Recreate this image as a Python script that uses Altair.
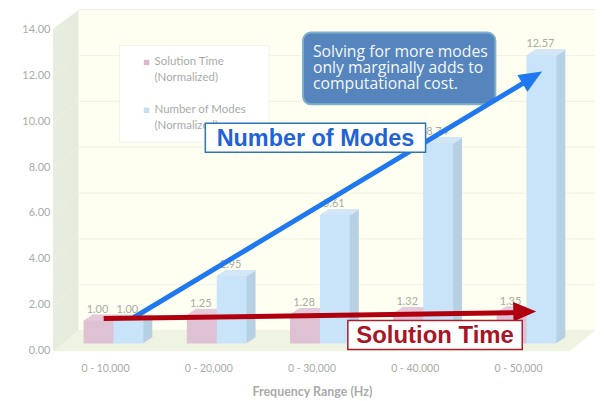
import altair as alt
import pandas as pd

categories = ["0 - 10,000", "0 - 20,000", "0 - 30,000", "0 - 40,000", "0 - 50,000"]
solution_time = [1.00, 1.25, 1.28, 1.32, 1.35]
num_modes = [1.00, 2.95, 5.61, 8.74, 12.57]
y_ticks = [0, 2, 4, 6, 8, 10, 12, 14]

W, H = 590, 392
UNIT = 23
ZERO = 343
AXIS_GRAY = "#A8ACA8"
WALL, FLOOR, BACK, GRID = "#E5ECDD", "#EEF3E2", "#FEFFF0", "#F2F3E4"


def p(v):
    return v - 8


df = pd.DataFrame({"cat": categories, "st": solution_time, "nm": num_modes})
grid_df = pd.DataFrame({"v": y_ticks})

x_scale = alt.Scale(domain=categories, range=[p(54), p(572)], paddingInner=0.42, paddingOuter=0.21)
y_scale = alt.Scale(domain=[(ZERO - H) / UNIT, ZERO / UNIT], nice=False, zero=False)

x_axis = alt.Axis(
    title="Frequency Range (Hz)", labelAngle=0, domain=False, ticks=False, grid=False,
    offset=-(H - ZERO), labelPadding=13, labelColor=AXIS_GRAY, labelFont="Lato", labelFontSize=10.5,
    titleFont="Lato", titleFontSize=12.5, titleFontWeight="bold", titleColor=AXIS_GRAY, titlePadding=12)
y_axis = alt.Axis(
    title=None, values=y_ticks, format=".2f", domain=False, ticks=False, grid=False,
    offset=-(p(54) - 2), labelPadding=2, labelColor=AXIS_GRAY, labelFont="Lato", labelFontSize=11)

X = alt.X("cat:N", scale=x_scale, sort=categories, axis=x_axis)


def Y(field):
    return alt.Y(f"{field}:Q", scale=y_scale, axis=y_axis)


layers = []

# back wall, left wall, floor
layers.append(alt.Chart().mark_rect(color=BACK).encode(
    x=alt.value(p(78)), x2=alt.value(p(597)), y=alt.value(p(10)), y2=alt.value(p(331))))
for k in range(0, 21):
    layers.append(alt.Chart().mark_rule(color=FLOOR, strokeWidth=1.5).encode(
        x=alt.value(p(54 + k * 1.2)), x2=alt.value(p(572 + k * 1.25)), y=alt.value(p(351 - k))))
for k in range(0, 25):
    layers.append(alt.Chart().mark_rule(color=WALL, strokeWidth=1.5).encode(
        x=alt.value(p(54 + k)), y=alt.value(p(28 - k * 0.75)), y2=alt.value(p(351 - k * 0.83))))

# gridlines on back wall
layers.append(alt.Chart(grid_df[grid_df.v > 0]).mark_rule(color=GRID, strokeWidth=1.2, yOffset=-20).encode(
    x=alt.value(p(78)), x2=alt.value(p(597)), y=alt.Y("v:Q", scale=y_scale, axis=y_axis)))

# faint gridline continuation on the left wall
for v in y_ticks[1:-1]:
    layers.append(alt.Chart().mark_rule(color="#EAF0E3", strokeWidth=1).encode(
        x=alt.value(p(54)), x2=alt.value(p(78)),
        y=alt.value(p(351 - UNIT * v)), y2=alt.value(p(331 - UNIT * v))))


def box(field, dx, front, side, top):
    out = []
    for k in range(9, 0, -1):
        out.append(alt.Chart(df).mark_bar(width=30, color=side, xOffset=dx + k, yOffset=-7 - k * 0.66,
                                          y2Offset=-7 - k * 0.66).encode(
            x=X, y=Y(field), y2=alt.Y2("base:Q")).transform_calculate(base="0"))
    for k in range(9, 0, -1):
        out.append(alt.Chart(df).mark_bar(width=30, color=top, xOffset=dx + k, yOffset=-7 - k * 0.66,
                                          y2Offset=-7 - k * 0.66).encode(
            x=X, y=Y(field), y2=alt.Y2("base:Q")).transform_calculate(base=f"datum.{field}-0.05"))
    out.append(alt.Chart(df).mark_bar(width=30, color=front, xOffset=dx, yOffset=-7, y2Offset=-7).encode(
        x=X, y=Y(field), y2=alt.Y2("base:Q")).transform_calculate(base="0"))
    return out


layers += box("st", -7, "#DFC1D4", "#D9BCCE", "#E4CBDB")
layers += box("nm", 23, "#C9E3F9", "#B6D0E4", "#D3E7F7")

for field, dx in (("st", -8), ("nm", 22)):
    layers.append(alt.Chart(df).mark_text(color=AXIS_GRAY, font="Lato", fontSize=11, xOffset=dx, yOffset=-18).encode(
        x=X, y=Y(field), text=alt.Text(f"{field}:Q", format=".2f")))

# legend panel
layers.append(alt.Chart().mark_rect(color="#FFFFFF", stroke="#F2F2EA").encode(
    x=alt.value(p(120)), x2=alt.value(p(270)), y=alt.value(p(45)), y2=alt.value(p(142))))
for sy, color, lines in (
    (62, "#DDB5CD", ["Solution Time", "(Normalized)"]),
    (110, "#C9DDF2", ["Number of Modes", "(Normalized)"]),
):
    layers.append(alt.Chart().mark_square(color=color, size=30, opacity=1).encode(
        x=alt.value(p(147)), y=alt.value(p(sy))))
    layers.append(alt.Chart().mark_text(text=lines, align="left", baseline="middle", lineHeight=16, font="Lato",
                                        fontSize=11.5, color=AXIS_GRAY).encode(
        x=alt.value(p(155)), y=alt.value(p(sy))))

# callout
layers.append(alt.Chart().mark_rect(color="#5685BD", stroke="#7FB0CB", strokeWidth=2, cornerRadius=8).encode(
    x=alt.value(p(304)), x2=alt.value(p(497)), y=alt.value(p(32)), y2=alt.value(p(104))))
layers.append(alt.Chart().mark_text(
    text=["Solving for more modes", "only marginally adds to", "computational cost."],
    align="left", baseline="middle", lineHeight=16.5, font="Open Sans", fontSize=15.8, color="#F4F7FB").encode(
    x=alt.value(p(314)), y=alt.value(p(51))))

# arrows
ARROW_HEAD = "M1,0L-1,-0.85L-1,0.85Z"
layers.append(alt.Chart().mark_rule(color="#1F78F0", strokeWidth=5).encode(
    x=alt.value(p(134)), x2=alt.value(p(528)), y=alt.value(p(318)), y2=alt.value(p(81))))
layers.append(alt.Chart().mark_point(shape=ARROW_HEAD, size=528, angle=329, filled=True, opacity=1, color="#1F78F0").encode(
    x=alt.value(p(534)), y=alt.value(p(77))))
layers.append(alt.Chart().mark_rule(color="#B00010", strokeWidth=5).encode(
    x=alt.value(p(104)), x2=alt.value(p(516)), y=alt.value(p(319)), y2=alt.value(p(313))))
layers.append(alt.Chart().mark_point(shape=ARROW_HEAD, size=528, angle=359, filled=True, opacity=1, color="#B00010").encode(
    x=alt.value(p(526.5)), y=alt.value(p(312))))

# label boxes
for x1, x2, y1, y2, stroke, txt, size, col in (
    (206, 427, 123, 152, "#2E75B6", "Number of Modes", 23.5, "#1F63D6"),
    (349, 524, 321, 350, "#A5202E", "Solution Time", 24, "#A81525"),
):
    layers.append(alt.Chart().mark_rect(color="#FFFFFF", stroke=stroke, strokeWidth=1.5).encode(
        x=alt.value(p(x1)), x2=alt.value(p(x2)), y=alt.value(p(y1)), y2=alt.value(p(y2))))
    layers.append(alt.Chart().mark_text(text=txt, align="center", baseline="middle", font="Liberation Sans",
                                        fontWeight="bold", fontSize=size, color=col).encode(
        x=alt.value(p((x1 + x2) / 2)), y=alt.value(p((y1 + y2) / 2 + 1))))

chart = alt.layer(*layers).properties(
    width=W, height=H, padding=0, autosize=alt.AutoSizeParams(type="none"), background="#FFFFFF"
).configure_view(stroke=None)

chart.save("out.html", embed_options={"renderer": "svg", "actions": False})
